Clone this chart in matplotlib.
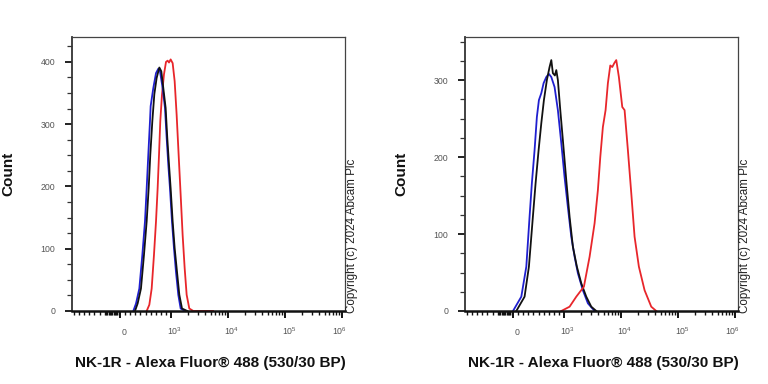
import matplotlib
matplotlib.use('Agg')
import matplotlib.pyplot as plt
from matplotlib.ticker import FixedLocator, FixedFormatter, NullFormatter
from matplotlib.transforms import ScaledTranslation

plt.rcParams['font.family'] = ['Liberation Sans', 'DejaVu Sans']
plt.rcParams['mathtext.fontset'] = 'custom'
plt.rcParams['mathtext.rm'] = 'Liberation Sans'
plt.rcParams['mathtext.it'] = 'Liberation Sans:italic'
plt.rcParams['mathtext.bf'] = 'Liberation Sans:bold'

# ---------------- data (fluorescence intensity, count) ----------------
left_blue_x = [261, 314, 379, 438, 490, 523, 555, 588, 601, 653, 706, 751, 784, 836, 882,
               915, 947, 980, 1040, 1127, 1222, 1343, 1476, 1758]
left_blue_y = [0, 12, 36, 90, 144, 197, 251, 305, 329, 358, 382, 389, 385, 358, 326,
               278, 235, 197, 144, 101, 63, 26, 4, 0]

left_black_x = [294, 346, 411, 470, 523, 562, 594, 634, 673, 718, 771, 810, 849, 895,
                927, 961, 993, 1069, 1159, 1274, 1400, 1560, 1932]
left_black_y = [0, 12, 36, 90, 144, 197, 251, 305, 348, 374, 391, 385, 358, 326,
                278, 235, 197, 144, 101, 63, 26, 4, 0]

left_red_x = [523, 575, 621, 666, 706, 738, 765, 790, 823, 862, 902, 934, 961, 993, 1069,
              1159, 1256, 1361, 1476, 1600, 1736, 1882, 2094, 2463, 5458]
left_red_y = [0, 10, 36, 90, 144, 197, 251, 305, 347, 380, 400, 402, 399, 404, 398,
              369, 315, 251, 187, 122, 69, 26, 4, 0, 0]

right_blue_x = [0, 163, 261, 325, 370, 423, 468, 508, 555, 600, 653, 704, 751, 815, 880,
                947, 1023, 1169, 1342, 1535, 1753, 2143, 2624, 3441]
right_blue_y = [0, 18.6, 57.6, 122.5, 166, 209, 252, 274, 283, 296, 304, 308, 304, 291, 261,
                218, 174, 135, 96.5, 70.5, 49, 27, 10, 0]

right_black_x = [65, 227, 312, 390, 443, 502, 555, 606, 664, 717, 751, 782, 821, 849, 880,
                 927, 978, 1096, 1253, 1432, 1683, 2009, 2460, 3010, 3685]
right_black_y = [0, 18.6, 57.6, 122.5, 166, 209, 244, 274, 300, 317, 326, 309, 306, 313, 300,
                 261, 222, 170, 122.5, 83.5, 57.6, 36, 18.6, 5.6, 0]

right_red_x = [947, 1253, 1642, 2234, 2812, 3441, 3931, 4331, 4809, 5365, 5888, 6486, 7031,
               7621, 8260, 9183, 10532, 11560, 13213, 15150, 17310, 20600, 25930, 33960, 41590]
right_red_y = [0, 5.6, 18.6, 31.6, 70.5, 114, 157, 200, 239, 261, 296, 319, 317,
               322, 326, 304, 265, 261, 209, 153, 96.5, 57.6, 27, 5.6, 0]

x_major_ticks = [0, 1e3, 1e4, 1e5, 1e6]
x_major_labels = ['0', '$10^{3}$', '$10^{4}$', '$10^{5}$', '$10^{6}$']
left_ymax = 440
right_ymax = 356
left_yticks = [0, 100, 200, 300, 400]
right_yticks = [0, 100, 200, 300]

xlabel_text = 'NK-1R - Alexa Fluor\u00ae 488 (530/30 BP)'
ylabel_text = 'Count'
copyright_text = 'Copyright (c) 2024 Abcam Plc'

BLUE = '#1f1fcf'
BLACK = '#111111'
RED = '#e8262b'

# ---------------- figure ----------------
W, H = 768, 384
fig = plt.figure(figsize=(W / 100, H / 100), dpi=100)


def px_axes(x0, y0, x1, y1):
    return fig.add_axes([x0 / W, 1 - y1 / H, (x1 - x0) / W, (y1 - y0) / H])


minor_x = ([-900, -800, -700, -600, -500, -400] +
           list(range(-300, 0, 25)) +
           [100, 200, 300, 400, 500, 600, 700, 800, 900] +
           [m * 10 ** d for d in (3, 4, 5) for m in range(2, 10)])


def style_axes(ax, ymax, yticks):
    ax.set_xscale('symlog', linthresh=1000, linscale=0.8055, base=10)
    ax.set_xlim(-941, 1.13e6)
    ax.set_ylim(0, ymax)
    ax.xaxis.set_major_locator(FixedLocator(x_major_ticks))
    ax.xaxis.set_major_formatter(FixedFormatter(x_major_labels))
    ax.xaxis.set_minor_locator(FixedLocator(minor_x))
    ax.xaxis.set_minor_formatter(NullFormatter())
    ax.yaxis.set_major_locator(FixedLocator(yticks))
    ax.yaxis.set_minor_locator(FixedLocator(list(range(0, int(ymax) + 1, 25))))
    ax.tick_params(axis='x', which='major', direction='out', length=5, width=1.4,
                   color='#111111', labelsize=6.3, labelcolor='#555555', pad=12)
    ax.tick_params(axis='x', which='minor', direction='out', length=3, width=1.0,
                   color='#111111')
    ax.tick_params(axis='y', which='major', direction='out', length=5, width=1.4,
                   color='#222222', labelsize=6.3, labelcolor='#555555', pad=7)
    ax.tick_params(axis='y', which='minor', direction='out', length=3.5, width=0.9,
                   color='#333333')
    labs = ax.get_xticklabels()
    for i, lab in enumerate(labs):
        lab.set_verticalalignment('baseline')
        dx = -3 if i == len(labs) - 1 else 4
        lab.set_transform(lab.get_transform() + ScaledTranslation(dx / 100, 0, fig.dpi_scale_trans))
    ax.spines['bottom'].set_linewidth(1.8)
    ax.spines['bottom'].set_color('#111111')
    ax.spines['left'].set_linewidth(1.3)
    ax.spines['left'].set_color('#333333')
    ax.spines['top'].set_linewidth(0.9)
    ax.spines['top'].set_color('#444444')
    ax.spines['right'].set_linewidth(0.9)
    ax.spines['right'].set_color('#444444')


panels = [
    (72, 345, left_ymax, left_yticks,
     [(left_red_x, left_red_y, RED), (left_blue_x, left_blue_y, BLUE),
      (left_black_x, left_black_y, BLACK)]),
    (465, 738, right_ymax, right_yticks,
     [(right_blue_x, right_blue_y, BLUE), (right_black_x, right_black_y, BLACK),
      (right_red_x, right_red_y, RED)]),
]

for x0, x1, ymax, yticks, curves in panels:
    ax = px_axes(x0, 37, x1, 311)
    for xs, ys, c in curves:
        ax.plot(xs, ys, color=c, lw=1.3, solid_joinstyle='round', clip_on=False)
    style_axes(ax, ymax, yticks)
    # axis labels
    fig.text((x0 + x1) / 2 / W + 1.5 / W, 1 - 363 / H, xlabel_text, ha='center', va='center',
             fontsize=11, fontweight='bold', color='#111111')
    fig.text((x0 - 64) / W, 1 - 174 / H, ylabel_text, ha='center', va='center',
             rotation=90, fontsize=11, fontweight='bold', color='#111111')
    fig.text((x1 + 7) / W, 1 - 313 / H, copyright_text, ha='left', va='center',
             rotation=90, rotation_mode='anchor', fontsize=8.4, color='#222222')

fig.savefig('out.png', dpi=100, facecolor='white')
